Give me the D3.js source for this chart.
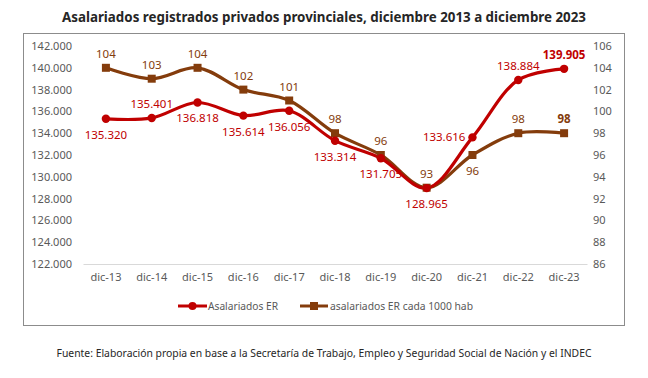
<!DOCTYPE html>
<html>
<head>
<meta charset="utf-8">
<script src="https://cdn.jsdelivr.net/npm/d3@7"></script>
<style>
  body { margin: 0; background: #fff; }
  svg { font-family: "Noto Sans", "Open Sans", sans-serif; }
</style>
</head>
<body>
<div id="chart"></div>
<script>
// data
const categories = ['dic-13','dic-14','dic-15','dic-16','dic-17','dic-18','dic-19','dic-20','dic-21','dic-22','dic-23'];
const asalariados = [135320, 135401, 136818, 135614, 136056, 133314, 131705, 128965, 133616, 138884, 139905];
const cada1000 = [104, 103, 104, 102, 101, 98, 96, 93, 96, 98, 98];
const leftTicks = d3.range(122000, 142001, 2000);
const rightTicks = d3.range(86, 107, 2);
// label placement for each point: 'a' above, 'b' below, 'l' left
const redPos = ['b','a','b','b','b','b','b','b','l','a','a'];
const brownPos = ['a','a','a','a','a','a','a','a','b','a','a'];

const W = 648, H = 378;
const RED = '#c00000', BROWN = '#843c0c', GRAY = '#595959';

const svg = d3.select('#chart').append('svg')
  .attr('width', W).attr('height', H);

svg.append('text')
  .attr('x', 324).attr('y', 22)
  .attr('text-anchor', 'middle')
  .attr('font-weight', 'bold')
  .attr('font-size', 13.5)
  .attr('fill', '#262626')
  .attr('textLength', 524).attr('lengthAdjust', 'spacingAndGlyphs')
  .text('Asalariados registrados privados provinciales, diciembre 2013 a diciembre 2023');

// chart frame
svg.append('rect')
  .attr('x', 23.5).attr('y', 33.5)
  .attr('width', 601).attr('height', 292)
  .attr('fill', 'none').attr('stroke', '#8c8c8c').attr('stroke-width', 1);

const x = d3.scaleBand().domain(categories).range([83, 587]);
const yL = d3.scaleLinear().domain([122000, 142000]).range([264, 46]);
const yR = d3.scaleLinear().domain([86, 106]).range([264, 46]);
const cx = d => x(d) + x.bandwidth() / 2;
const fmt = d3.formatLocale({decimal: ',', thousands: '.', grouping: [3], currency: ['$','']}).format(',.0f');

// left axis
svg.append('g').attr('transform', 'translate(83,0)')
  .call(d3.axisLeft(yL).tickValues(leftTicks).tickFormat(fmt).tickSize(0).tickPadding(11))
  .call(g => g.select('.domain').remove())
  .call(g => g.selectAll('text').attr('fill', GRAY).attr('font-size', 11).attr('font-family', '"Noto Sans", sans-serif'));

// right axis
svg.append('g').attr('transform', 'translate(587,0)')
  .call(d3.axisRight(yR).tickValues(rightTicks).tickSize(0).tickPadding(6))
  .call(g => g.select('.domain').remove())
  .call(g => g.selectAll('text').attr('fill', GRAY).attr('font-size', 11).attr('font-family', '"Noto Sans", sans-serif'));

// x axis baseline + labels
svg.append('g').attr('transform', 'translate(0,264)')
  .call(d3.axisBottom(x).tickSize(0).tickPadding(9))
  .call(g => g.select('.domain').attr('stroke', '#d9d9d9'))
  .call(g => g.selectAll('text').attr('fill', GRAY).attr('font-size', 11).attr('font-family', '"Noto Sans", sans-serif'));

const curve = d3.curveCatmullRom.alpha(0.5);

// brown series
const brownLine = d3.line().x((d, i) => cx(categories[i])).y(d => yR(d)).curve(curve);
svg.append('path').datum(cada1000)
  .attr('d', brownLine).attr('fill', 'none')
  .attr('stroke', BROWN).attr('stroke-width', 3.2);

// red series
const redLine = d3.line().x((d, i) => cx(categories[i])).y(d => yL(d)).curve(curve);
svg.append('path').datum(asalariados)
  .attr('d', redLine).attr('fill', 'none')
  .attr('stroke', RED).attr('stroke-width', 3.2);

svg.append('g').selectAll('rect').data(cada1000).enter().append('rect')
  .attr('x', (d, i) => cx(categories[i]) - 4)
  .attr('y', d => yR(d) - 4)
  .attr('width', 8).attr('height', 8)
  .attr('fill', BROWN);

svg.append('g').selectAll('circle').data(asalariados).enter().append('circle')
  .attr('cx', (d, i) => cx(categories[i]))
  .attr('cy', d => yL(d))
  .attr('r', 4.2)
  .attr('fill', RED);

// data labels
function labels(data, yScale, pos, color, format) {
  svg.append('g').selectAll('text').data(data).enter().append('text')
    .attr('x', (d, i) => pos[i] === 'l' ? cx(categories[i]) - 7 : cx(categories[i]))
    .attr('y', (d, i) => {
      const p = yScale(d);
      if (pos[i] === 'a') return p - 10;
      if (pos[i] === 'b') return p + 20;
      return p + 4;
    })
    .attr('text-anchor', (d, i) => pos[i] === 'l' ? 'end' : 'middle')
    .attr('font-size', 11.5)
    .attr('font-weight', (d, i) => i === data.length - 1 ? 'bold' : 'normal')
    .attr('fill', color)
    .text(format);
}
labels(asalariados, yL, redPos, RED, fmt);
labels(cada1000, yR, brownPos, BROWN, d => d);

// legend
const leg = svg.append('g').attr('transform', 'translate(0,306)');
leg.append('line').attr('x1', 178).attr('x2', 207).attr('y1', 0).attr('y2', 0)
  .attr('stroke', RED).attr('stroke-width', 3);
leg.append('circle').attr('cx', 192.5).attr('cy', 0).attr('r', 4).attr('fill', RED);
leg.append('text').attr('x', 208).attr('y', 4).attr('font-size', 11).attr('fill', GRAY)
  .attr('textLength', 70).attr('lengthAdjust', 'spacingAndGlyphs')
  .text('Asalariados ER');
leg.append('line').attr('x1', 300).attr('x2', 328).attr('y1', 0).attr('y2', 0)
  .attr('stroke', BROWN).attr('stroke-width', 3);
leg.append('rect').attr('x', 310).attr('y', -4).attr('width', 8).attr('height', 8).attr('fill', BROWN);
leg.append('text').attr('x', 330).attr('y', 4).attr('font-size', 11).attr('fill', GRAY)
  .attr('textLength', 143).attr('lengthAdjust', 'spacingAndGlyphs')
  .text('asalariados ER cada 1000 hab');

// source
svg.append('text')
  .attr('x', 324).attr('y', 357)
  .attr('text-anchor', 'middle')
  .attr('font-size', 11).attr('fill', '#262626')
  .attr('textLength', 535).attr('lengthAdjust', 'spacingAndGlyphs')
  .text('Fuente: Elaboración propia en base a la Secretaría de Trabajo, Empleo y Seguridad Social de Nación y el INDEC');
</script>
</body>
</html>
